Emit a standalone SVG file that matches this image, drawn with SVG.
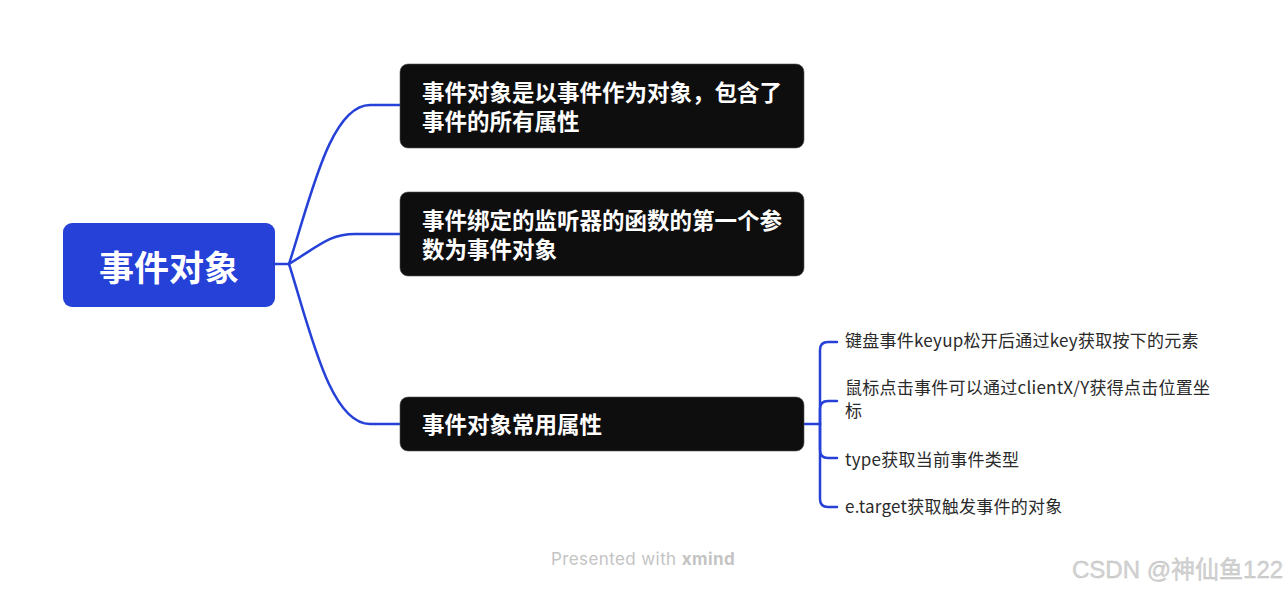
<svg xmlns="http://www.w3.org/2000/svg" width="1285" height="590" viewBox="0 0 1285 590">
<style>
.node{fill:#0e0e0e;stroke:#555;stroke-width:0.6}
.nt{font-family:"Noto Sans CJK SC","Noto Sans",sans-serif;font-weight:bold;font-size:22.5px;fill:#ffffff}
.st{font-family:"Noto Sans CJK SC","Noto Sans",sans-serif;font-size:17px;letter-spacing:0.25px;fill:#2a2a2a}
.conn{fill:none;stroke:#2541d8;stroke-width:2.5;stroke-linecap:round}
</style>
<rect width="1285" height="590" fill="#ffffff"/>
<g id="connectors">
<path class="conn" d="M274,264 L289,264"/>
<path class="conn" d="M289,264 C310,200 330,105 370,105 L400,105"/>
<path class="conn" d="M289,264 C320,245 330,234 355,234 L400,234"/>
<path class="conn" d="M289,264 C310,330 330,424 370,424 L400,424"/>
<path class="conn" d="M804,424 L820,424"/>
<path class="conn" d="M820,424 L820,350 Q820,342 828,342 L837,342"/>
<path class="conn" d="M820,424 L820,409 Q820,401 828,401 L837,401"/>
<path class="conn" d="M820,424 L820,450 Q820,458 828,458 L837,458"/>
<path class="conn" d="M820,424 L820,499 Q820,507 828,507 L837,507"/>
</g>
<g id="root">
<rect x="63" y="223" width="212" height="84" rx="9" fill="#2541d8"/>
<text x="169" y="281" text-anchor="middle" font-family="'Noto Sans CJK SC','Noto Sans',sans-serif" font-weight="bold" font-size="35" fill="#ffffff">事件对象</text>
</g>
<g id="node1">
<rect class="node" x="400" y="64" width="404" height="84" rx="8"/>
<text class="nt" x="422" y="101">事件对象是以事件作为对象，包含了</text>
<text class="nt" x="422" y="130">事件的所有属性</text>
</g>
<g id="node2">
<rect class="node" x="400" y="192" width="404" height="84" rx="8"/>
<text class="nt" x="422" y="229">事件绑定的监听器的函数的第一个参</text>
<text class="nt" x="422" y="258">数为事件对象</text>
</g>
<g id="node3">
<rect class="node" x="400" y="397" width="404" height="54" rx="8"/>
<text class="nt" x="422" y="433">事件对象常用属性</text>
</g>
<g id="sub1">
<text class="st" x="845" y="347">键盘事件keyup松开后通过key获取按下的元素</text>
</g>
<g id="sub2">
<text class="st" x="845" y="394">鼠标点击事件可以通过clientX/Y获得点击位置坐</text>
<text class="st" x="845" y="417">标</text>
</g>
<g id="sub3">
<text class="st" x="845" y="466">type获取当前事件类型</text>
</g>
<g id="sub4">
<text class="st" x="845" y="513">e.target获取触发事件的对象</text>
</g>
<g id="watermarks">
<text x="551" y="565" font-family="Inter,'Noto Sans',sans-serif" font-size="17" letter-spacing="0.4" fill="#c4c4c4">Presented with <tspan font-weight="bold">xmind</tspan></text>
<text x="1072" y="578" font-family="'Liberation Sans','Noto Sans CJK SC',sans-serif" font-size="24" fill="#d4d4d4" stroke="#bdbdbd" stroke-width="0.4">CSDN @神仙鱼122</text>
</g>
</svg>
